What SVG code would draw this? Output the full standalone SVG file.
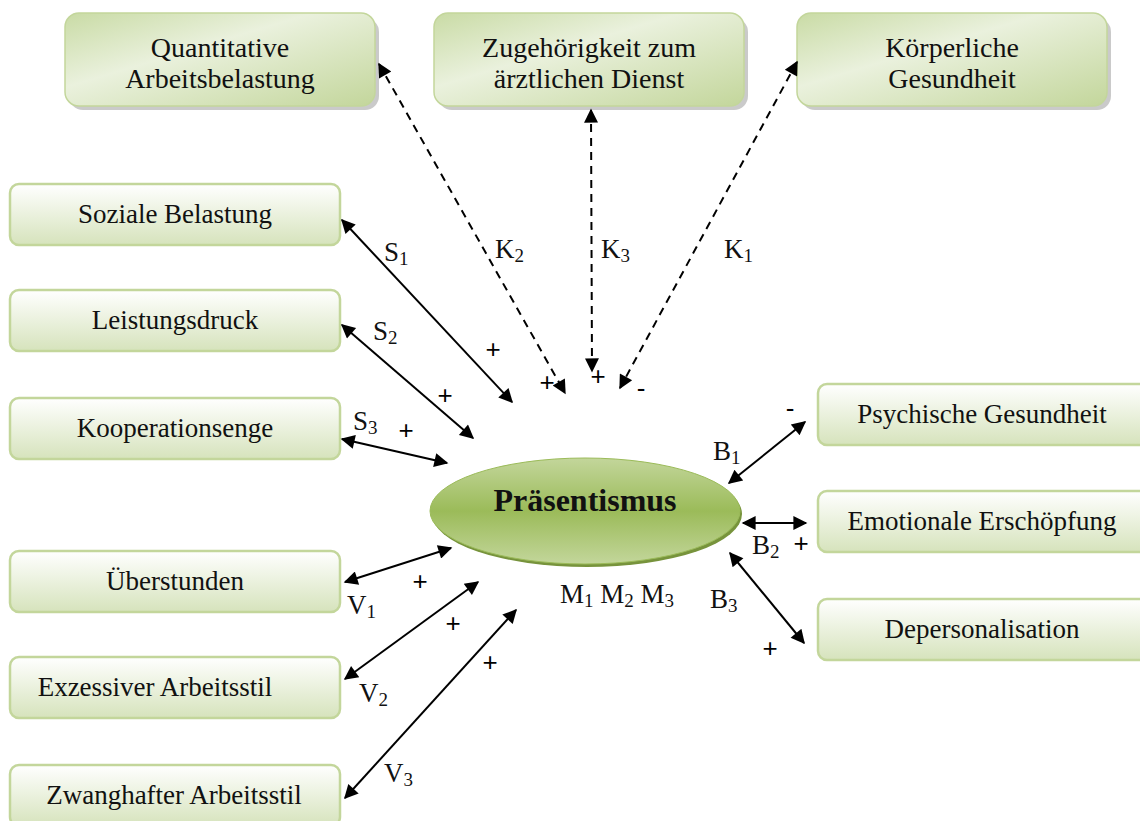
<svg xmlns="http://www.w3.org/2000/svg" width="1140" height="821" viewBox="0 0 1140 821">
  <style>
    .lbl { font-family: "Liberation Serif", "DejaVu Serif", serif; font-size: 27px; fill: #111; text-anchor: middle; }
    .tl { font-size: 28px; }
    .sym { font-family: "Liberation Sans", "DejaVu Sans", sans-serif; font-size: 26px; fill: #000; text-anchor: middle; }
    .idx { font-family: "Liberation Serif", "DejaVu Serif", serif; font-size: 27px; fill: #111; }
    .sub { font-size: 19px; }
    .box { fill: url(#boxFill); stroke: #c3d69b; stroke-width: 2.5; }
    .tbox { fill: url(#topFill); stroke: #c3d69b; stroke-width: 1.5; }
    .shadow { fill: #a6a6a6; opacity: 0.6; }
    .link { stroke: #000; stroke-width: 2; fill: none; marker-start: url(#head); marker-end: url(#head); }
    .dash { stroke-dasharray: 8 6; }
  </style>
  <defs>
    <linearGradient id="boxFill" x1="0" y1="0" x2="0" y2="1">
      <stop offset="0" stop-color="#ffffff"/>
      <stop offset="1" stop-color="#d6e3bc"/>
    </linearGradient>
    <linearGradient id="topFill" x1="0" y1="0" x2="1" y2="1">
      <stop offset="0" stop-color="#c9dba5"/>
      <stop offset="0.4" stop-color="#eaf1dd"/>
      <stop offset="1" stop-color="#c3d69b"/>
    </linearGradient>
    <linearGradient id="ovalFill" x1="0" y1="0" x2="0" y2="1">
      <stop offset="0" stop-color="#c3d69b"/>
      <stop offset="0.5" stop-color="#9bbb59"/>
      <stop offset="1" stop-color="#c3d69b"/>
    </linearGradient>
    <marker id="head" viewBox="0 0 10 10" refX="9" refY="5" markerWidth="18" markerHeight="14" markerUnits="userSpaceOnUse" orient="auto-start-reverse">
      <path d="M0,0 L10,5 L0,10 z" fill="#000"/>
    </marker>
  </defs>

  <!-- top row nodes -->
  <g id="node-quantitative">
    <rect class="shadow" x="69" y="18" width="310" height="92" rx="14"/>
    <rect class="tbox" x="65" y="13" width="310" height="93" rx="14"/>
    <text class="lbl tl" x="220" y="57">Quantitative</text>
    <text class="lbl tl" x="220" y="88">Arbeitsbelastung</text>
  </g>
  <g id="node-zugehoerigkeit">
    <rect class="shadow" x="438" y="18" width="310" height="92" rx="14"/>
    <rect class="tbox" x="434" y="13" width="310" height="93" rx="14"/>
    <text class="lbl tl" x="589" y="57">Zugehörigkeit zum</text>
    <text class="lbl tl" x="589" y="88">ärztlichen Dienst</text>
  </g>
  <g id="node-koerperlich">
    <rect class="shadow" x="801" y="18" width="310" height="92" rx="14"/>
    <rect class="tbox" x="797" y="13" width="310" height="93" rx="14"/>
    <text class="lbl tl" x="952" y="57">Körperliche</text>
    <text class="lbl tl" x="952" y="88">Gesundheit</text>
  </g>

  <!-- left column nodes -->
  <g id="node-sozial">
    <rect class="box" x="10" y="184" width="330" height="61" rx="9"/>
    <text class="lbl" x="175" y="223">Soziale Belastung</text>
  </g>
  <g id="node-leistung">
    <rect class="box" x="10" y="290" width="330" height="61" rx="9"/>
    <text class="lbl" x="175" y="329">Leistungsdruck</text>
  </g>
  <g id="node-kooperation">
    <rect class="box" x="10" y="398" width="330" height="61" rx="9"/>
    <text class="lbl" x="175" y="437">Kooperationsenge</text>
  </g>
  <g id="node-ueberstunden">
    <rect class="box" x="10" y="551" width="330" height="61" rx="9"/>
    <text class="lbl" x="175" y="590">Überstunden</text>
  </g>
  <g id="node-exzessiv">
    <rect class="box" x="10" y="657" width="330" height="61" rx="9"/>
    <text class="lbl" x="155" y="696">Exzessiver Arbeitsstil</text>
  </g>
  <g id="node-zwanghaft">
    <rect class="box" x="10" y="765" width="330" height="61" rx="9"/>
    <text class="lbl" x="174" y="804">Zwanghafter Arbeitsstil</text>
  </g>

  <!-- right column nodes -->
  <g id="node-psychisch">
    <rect class="box" x="818" y="384" width="330" height="61" rx="9"/>
    <text class="lbl" x="982" y="423">Psychische Gesundheit</text>
  </g>
  <g id="node-emotional">
    <rect class="box" x="818" y="491" width="330" height="61" rx="9"/>
    <text class="lbl" x="982" y="530">Emotionale Erschöpfung</text>
  </g>
  <g id="node-depersonalisation">
    <rect class="box" x="818" y="599" width="330" height="61" rx="9"/>
    <text class="lbl" x="982" y="638">Depersonalisation</text>
  </g>

  <!-- central node -->
  <g id="node-praesentismus">
    <ellipse cx="587" cy="514" rx="155" ry="53" fill="#77933c"/>
    <ellipse cx="585" cy="511" rx="155" ry="53" fill="url(#ovalFill)" stroke="#9bbb59" stroke-width="1"/>
    <text x="585" y="511" font-family="Liberation Serif, DejaVu Serif, serif" font-size="32" font-weight="bold" text-anchor="middle" fill="#111">Präsentismus</text>
  </g>

  <!-- connectors -->
  <g id="connectors">
    <line class="link dash" x1="379" y1="64" x2="565" y2="393"/>
    <line class="link dash" x1="591" y1="110" x2="592" y2="371"/>
    <line class="link dash" x1="797" y1="62" x2="620" y2="388"/>
    <line class="link" x1="342" y1="220" x2="512" y2="402"/>
    <line class="link" x1="342" y1="325" x2="473" y2="438"/>
    <line class="link" x1="342" y1="439" x2="447" y2="463"/>
    <line class="link" x1="345" y1="582" x2="451" y2="548"/>
    <line class="link" x1="345" y1="679" x2="478" y2="582"/>
    <line class="link" x1="345" y1="798" x2="516" y2="610"/>
    <line class="link" x1="729" y1="483" x2="805" y2="422"/>
    <line class="link" x1="743" y1="523" x2="806" y2="523"/>
    <line class="link" x1="730" y1="553" x2="804" y2="643"/>
  </g>

  <!-- path coefficients -->
  <g id="coefficients">
    <text class="idx" x="495" y="258">K<tspan class="sub" dy="4">2</tspan></text>
    <text class="idx" x="601" y="258">K<tspan class="sub" dy="4">3</tspan></text>
    <text class="idx" x="724" y="258">K<tspan class="sub" dy="4">1</tspan></text>
    <text class="idx" x="384" y="261">S<tspan class="sub" dy="4">1</tspan></text>
    <text class="idx" x="373" y="340">S<tspan class="sub" dy="4">2</tspan></text>
    <text class="idx" x="353" y="430">S<tspan class="sub" dy="4">3</tspan></text>
    <text class="idx" x="347" y="614">V<tspan class="sub" dy="4">1</tspan></text>
    <text class="idx" x="359" y="702">V<tspan class="sub" dy="4">2</tspan></text>
    <text class="idx" x="384" y="782">V<tspan class="sub" dy="4">3</tspan></text>
    <text class="idx" x="713" y="460">B<tspan class="sub" dy="4">1</tspan></text>
    <text class="idx" x="752" y="554">B<tspan class="sub" dy="4">2</tspan></text>
    <text class="idx" x="710" y="608">B<tspan class="sub" dy="4">3</tspan></text>
    <text class="idx" x="560" y="603">M<tspan class="sub" dy="4">1</tspan><tspan dy="-4"> M</tspan><tspan class="sub" dy="4">2</tspan><tspan dy="-4"> M</tspan><tspan class="sub" dy="4">3</tspan></text>
  </g>

  <!-- signs -->
  <g id="signs">
    <text class="sym" x="493" y="358">+</text>
    <text class="sym" x="445" y="404">+</text>
    <text class="sym" x="406" y="439">+</text>
    <text class="sym" x="547" y="391">+</text>
    <text class="sym" x="598" y="385">+</text>
    <text class="sym" x="641" y="397">-</text>
    <text class="sym" x="790" y="417">-</text>
    <text class="sym" x="801" y="552">+</text>
    <text class="sym" x="770" y="657">+</text>
    <text class="sym" x="420" y="590">+</text>
    <text class="sym" x="453" y="632">+</text>
    <text class="sym" x="490" y="671">+</text>
  </g>
</svg>
